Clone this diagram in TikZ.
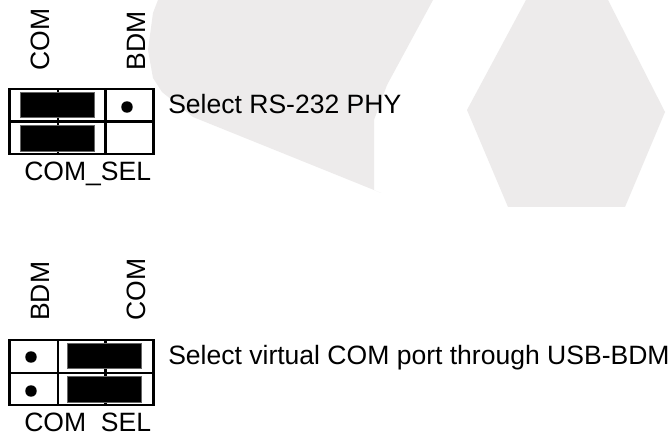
\documentclass[tikz,border=0pt]{standalone}
\usepackage{fontspec}
\setmainfont{Liberation Sans}
\definecolor{wmc}{RGB}{237,235,235}
\tikzset{
 wm/.style={fill=wmc,draw=none},
 frame/.style={draw=black,line width=2.2pt,fill=none},
 jmp/.style={fill=black,draw=black!60,line width=.5pt},
 pin/.style={circle,fill=black,inner sep=0pt,minimum size=8.6pt},
 lab/.style={font=\fontsize{19.9}{20}\selectfont,inner sep=0pt,text=black},
 vlab/.style={lab,rotate=90,anchor=base west},
}
\begin{document}
\begin{tikzpicture}[x=1pt,y=-1pt,scale=0.75]
\useasboundingbox (0,0) rectangle (672,434);
\fill[white] (0,0) rectangle (672,434);
\fill[wm] (158,0) -- (153,13) -- (148,50) -- (153,78) -- (162,92) -- (193,117) -- (374,190) -- (381,193) -- (374,190) -- (374,120) -- (387,85) -- (433,0) -- cycle;
\fill[wm] (526,0) -- (467,110) -- (508,207) -- (625,207) -- (665,112) -- (608,0) -- cycle;
\draw[frame] (9.5,89) rectangle (153.5,154);
\draw[frame] (9.5,121.5) -- (153.5,121.5) (58,89) -- (58,154) (105.5,89) -- (105.5,154);
\fill[jmp] (20,92) rectangle (94.5,117);
\fill[jmp] (20,125) rectangle (94.5,151);
\node[pin] (p1) at (127,107) {};
\node[vlab] (c1) at (49,70.5) {COM};
\node[vlab] (b1) at (145,70.5) {BDM};
\node[lab,anchor=base west] (s1) at (168,113.5) {Select RS-232 PHY};
\node[lab,anchor=base west] (u1) at (24,181) {COM\_SEL};
\draw[frame] (9.5,340) rectangle (153.5,405);
\draw[frame] (9.5,373) -- (153.5,373) (58,340) -- (58,405) (105.5,340) -- (105.5,405);
\fill[jmp] (67,343) rectangle (141.5,368);
\fill[jmp] (67,376) rectangle (141.5,402);
\node[pin] (p2) at (31,357) {};
\node[pin] (p3) at (31,391) {};
\node[vlab] (b2) at (49,321) {BDM};
\node[vlab] (c2) at (145,321) {COM};
\node[lab,anchor=base west] (s2) at (168,364.5) {Select virtual COM port through USB-BDM};
\node[lab,anchor=base west] (u2) at (24,431.5) {COM\_SEL};
\end{tikzpicture}
\end{document}
